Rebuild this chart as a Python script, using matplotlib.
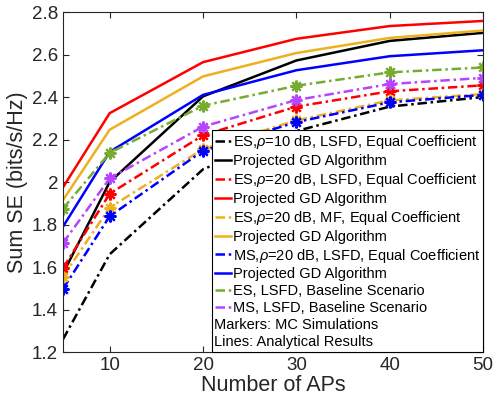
import numpy as np
import matplotlib
matplotlib.use("Agg")
import matplotlib.pyplot as plt
from matplotlib.lines import Line2D
from matplotlib.transforms import Affine2D

plt.rcParams["font.family"] = ["Liberation Sans", "DejaVu Sans"]
plt.rcParams["mathtext.fontset"] = "custom"
plt.rcParams["mathtext.it"] = "Liberation Sans:italic"

# Number of access points
aps = [5, 10, 20, 30, 40, 50]

# Analytical curves, equal coefficients (dash-dot)
es10_lsfd_eq = [1.26, 1.66, 2.06, 2.24, 2.355, 2.40]
es20_lsfd_eq = [1.595, 1.945, 2.22, 2.355, 2.427, 2.455]
es20_mf_eq = [1.555, 1.88, 2.155, 2.29, 2.384, 2.414]
ms20_lsfd_eq = [1.497, 1.839, 2.147, 2.282, 2.375, 2.41]
es_lsfd_base = [1.875, 2.137, 2.359, 2.453, 2.516, 2.539]
ms_lsfd_base = [1.713, 2.017, 2.261, 2.386, 2.461, 2.49]

# Analytical curves, projected GD algorithm (solid)
es10_lsfd_gd = [1.57, 2.0, 2.403, 2.572, 2.664, 2.702]
es20_lsfd_gd = [1.975, 2.324, 2.564, 2.674, 2.734, 2.758]
es20_mf_gd = [1.915, 2.246, 2.497, 2.607, 2.678, 2.713]
ms20_lsfd_gd = [1.79, 2.142, 2.41, 2.526, 2.592, 2.62]

# MC simulation markers
mc_es20_lsfd = es20_lsfd_eq
mc_es20_mf = es20_mf_eq
mc_ms20_lsfd = ms20_lsfd_eq
mc_es_base = es_lsfd_base
mc_ms_base = ms_lsfd_base

c_black = "k"
c_red = "#FF0000"
c_orange = "#EDB120"
c_blue = "#0000FF"
c_green = "#77AC30"
c_purple = "#B545FF"

dashdot = (0, (3.8, 1.5, 1.0, 1.5))
lw = 1.8
star = (8, 2, 0)

fig = plt.figure(figsize=(4.94, 4.07), dpi=100)
ax = fig.add_axes([0.1275, 0.135, 0.8505, 0.8355])

h = []
h += ax.plot(aps, es10_lsfd_eq, color=c_black, ls=dashdot, lw=lw)
h += ax.plot(aps, es10_lsfd_gd, color=c_black, ls="-", lw=lw)
h += ax.plot(aps, es20_lsfd_eq, color=c_red, ls=dashdot, lw=lw)
h += ax.plot(aps, es20_lsfd_gd, color=c_red, ls="-", lw=lw)
h += ax.plot(aps, es20_mf_eq, color=c_orange, ls=dashdot, lw=lw)
h += ax.plot(aps, es20_mf_gd, color=c_orange, ls="-", lw=lw)
h += ax.plot(aps, ms20_lsfd_eq, color=c_blue, ls=dashdot, lw=lw)
h += ax.plot(aps, ms20_lsfd_gd, color=c_blue, ls="-", lw=lw)
h += ax.plot(aps, es_lsfd_base, color=c_green, ls=dashdot, lw=lw)
h += ax.plot(aps, ms_lsfd_base, color=c_purple, ls=dashdot, lw=lw)

for vals, col in [(mc_es20_lsfd, c_red), (mc_es20_mf, c_orange),
                  (mc_ms20_lsfd, c_blue), (mc_es_base, c_green),
                  (mc_ms_base, c_purple)]:
    ax.plot(aps, vals, ls="none", marker=star, ms=8.5, mew=1.6, color=col)

ax.set_xlim(5, 50)
ax.set_ylim(1.2, 2.8)
ax.set_xticks([10, 20, 30, 40, 50])
ax.set_yticks(np.arange(1.2, 2.81, 0.2))
ax.yaxis.set_major_formatter(matplotlib.ticker.FormatStrFormatter("%g"))
ax.tick_params(direction="in", top=True, right=True, labelsize=13.5,
               colors="#262626", length=4, width=0.8)
for s in ax.spines.values():
    s.set_color("#262626")
    s.set_linewidth(0.8)
ax.set_xlabel("Number of APs", fontsize=15.5, color="#262626", labelpad=1)
ax.set_ylabel("Sum SE (bits/s/Hz)", fontsize=15.5, color="#262626", labelpad=3)

blank = Line2D([], [], ls="none")
labels = [r"ES,$\rho$=10 dB, LSFD, Equal Coefficient",
          "Projected GD Algorithm",
          r"ES,$\rho$=20 dB, LSFD, Equal Coefficient",
          "Projected GD Algorithm",
          r"ES,$\rho$=20 dB, MF, Equal Coefficient",
          "Projected GD Algorithm",
          r"MS,$\rho$=20 dB, LSFD, Equal Coefficient",
          "Projected GD Algorithm",
          "ES, LSFD, Baseline Scenario",
          "MS, LSFD, Baseline Scenario",
          "Markers: MC Simulations",
          "Lines: Analytical Results"]
fs = 10.5
leg = ax.legend(h + [blank, blank], labels, loc="lower right",
                bbox_to_anchor=(1.0, 0.0), borderaxespad=0, fontsize=fs,
                handlelength=1.05, handletextpad=0.15, labelspacing=0.2,
                borderpad=0.2, fancybox=False, framealpha=1,
                edgecolor="k")
leg.get_frame().set_linewidth(0.8)
# the two note rows have no handle, so pull their text back to the left edge
shift = (1.05 + 0.15) * fs * 100 / 72 + 1
for t in leg.get_texts()[-2:]:
    t.set_transform(t.get_transform() + Affine2D().translate(-shift, 0))

fig.savefig("out.png", dpi=100)
